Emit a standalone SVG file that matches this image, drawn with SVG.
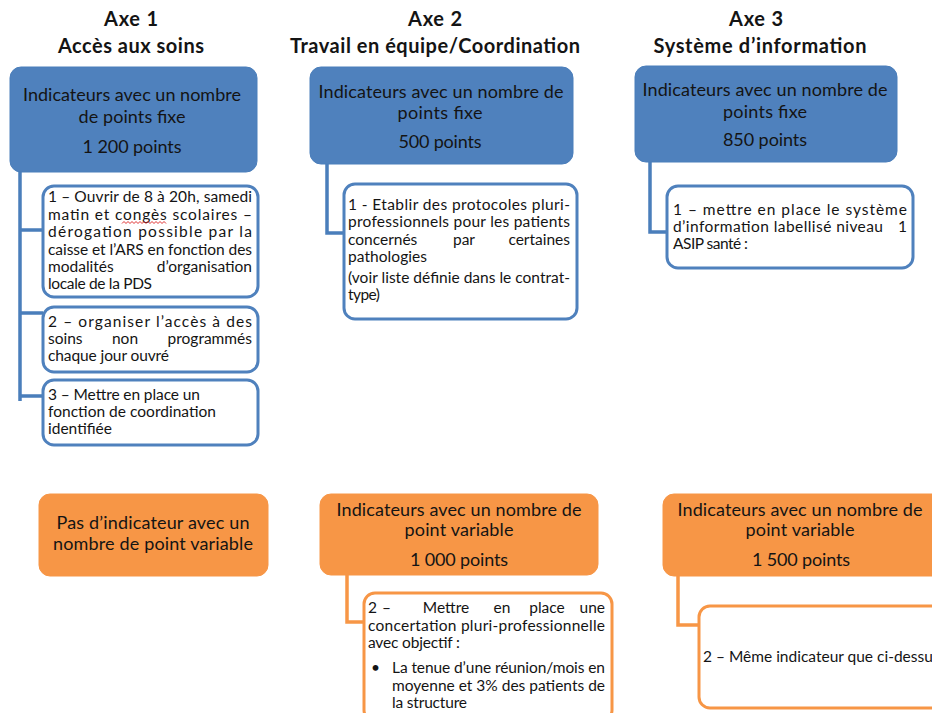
<svg xmlns="http://www.w3.org/2000/svg" width="932" height="713" viewBox="0 0 932 713">
<style>
text{font-family:Lato,"Liberation Sans",sans-serif;fill:#141414}
.h{font-weight:bold;font-size:20px;text-anchor:middle}
.b{font-size:18px;text-anchor:middle}
.s{font-size:15.5px}
.e{text-anchor:end}
.m{text-anchor:middle}
.blue{fill:#4f81bd;stroke:#4a7ebb;stroke-width:1}
.org{fill:#f79646;stroke:#f79646;stroke-width:1}
.cb{fill:#fff;stroke:#4f81bd;stroke-width:3}
.co{fill:#fff;stroke:#f79646;stroke-width:3}
.lb{fill:none;stroke:#4a7ebb;stroke-width:3.5}
.lo{fill:none;stroke:#f79646;stroke-width:3.5}
</style>

<g id="headers">
<text class="h" x="131" y="26" textLength="54">Axe 1</text>
<text class="h" x="131" y="53" textLength="146">Accès aux soins</text>
<text class="h" x="435" y="26" textLength="54">Axe 2</text>
<text class="h" x="435" y="53" textLength="290">Travail en équipe/Coordination</text>
<text class="h" x="756" y="26" textLength="54">Axe 3</text>
<text class="h" x="760" y="53" textLength="213">Système d’information</text>
</g>

<g id="connectors">
<path class="lb" d="M20 171V401M20 230H43M20 313H43M20 396H43"/>
<path class="lb" d="M327 164V233H344"/>
<path class="lb" d="M650 162V232H667"/>
<path class="lo" d="M347 575V622H364"/>
<path class="lo" d="M678 576V625H699"/>
</g>

<g id="axe1-fixe">
<rect class="blue" x="10" y="67" width="247" height="105" rx="11"/>
<text class="b" x="132" y="101" textLength="218">Indicateurs avec un nombre</text>
<text class="b" x="132" y="123" textLength="107">de points fixe</text>
<text class="b" x="132" y="153" textLength="99">1 200 points</text>
</g>

<g id="axe1-ind1">
<rect class="cb" x="43" y="186" width="215" height="111" rx="11"/>
<text class="s" x="48" y="202" textLength="204">1 – Ouvrir de 8 à 20h, samedi</text>
<text class="s" x="48" y="220" textLength="204">matin et congès scolaires –</text>
<path d="M122 223.5l2-2 2 2 2-2 2 2 2-2 2 2 2-2 2 2 2-2 2 2 2-2 2 2 2-2 2 2 2-2 2 2 2-2 2 2 2-2 2 2 2-2 2 2" fill="none" stroke="#e03030" stroke-width="1"/>
<text class="s" x="48" y="237" textLength="204">dérogation possible par la</text>
<text class="s" x="48" y="255" textLength="204">caisse et l’ARS en fonction des</text>
<text class="s" x="48" y="272">modalités</text>
<text class="s e" x="252" y="272">d’organisation</text>
<text class="s" x="48" y="289" textLength="104">locale de la PDS</text>
</g>

<g id="axe1-ind2">
<rect class="cb" x="43" y="307" width="215" height="65" rx="11"/>
<text class="s" x="48" y="327" textLength="204">2 – organiser l’accès à des</text>
<text class="s" x="48" y="344">soins</text>
<text class="s m" x="125" y="344">non</text>
<text class="s e" x="252" y="344">programmés</text>
<text class="s" x="48" y="361" textLength="121">chaque jour ouvré</text>
</g>

<g id="axe1-ind3">
<rect class="cb" x="43" y="380" width="215" height="65" rx="11"/>
<text class="s" x="48" y="400" textLength="152">3 – Mettre en place un</text>
<text class="s" x="48" y="417" textLength="168">fonction de coordination</text>
<text class="s" x="48" y="434" textLength="64">identifiée</text>
</g>

<g id="axe2-fixe">
<rect class="blue" x="310" y="67" width="263" height="97" rx="11"/>
<text class="b" x="441" y="98" textLength="245">Indicateurs avec un nombre  de</text>
<text class="b" x="440" y="119" textLength="85">points fixe</text>
<text class="b" x="440" y="148" textLength="83">500 points</text>
</g>

<g id="axe2-ind1">
<rect class="cb" x="344" y="184" width="233" height="135" rx="11"/>
<text class="s" x="348" y="210" textLength="222">1 - Etablir des protocoles pluri-</text>
<text class="s" x="348" y="227" textLength="222">professionnels pour les patients</text>
<text class="s" x="348" y="245">concernés</text>
<text class="s m" x="464" y="245">par</text>
<text class="s e" x="570" y="245">certaines</text>
<text class="s" x="348" y="262" textLength="79">pathologies</text>
<text class="s" x="348" y="283" textLength="222">(voir liste définie dans le contrat-</text>
<text class="s" x="348" y="300" textLength="32">type)</text>
</g>

<g id="axe3-fixe">
<rect class="blue" x="635" y="66" width="262" height="96" rx="11"/>
<text class="b" x="765" y="96" textLength="245">Indicateurs avec un nombre  de</text>
<text class="b" x="765" y="118" textLength="84">points fixe</text>
<text class="b" x="765" y="146" textLength="84">850 points</text>
</g>

<g id="axe3-ind1">
<rect class="cb" x="667" y="186" width="246" height="82" rx="11"/>
<text class="s" x="673" y="215" textLength="234">1 – mettre en place le système</text>
<text class="s" x="673" y="232" textLength="210">d’information labellisé niveau</text>
<text class="s e" x="907" y="232">1</text>
<text class="s" x="673" y="249" textLength="75">ASIP santé :</text>
</g>

<g id="axe1-variable">
<rect class="org" x="39" y="494" width="229" height="82" rx="11"/>
<text class="b" x="153" y="529" textLength="193">Pas d’indicateur avec un</text>
<text class="b" x="153" y="550" textLength="200">nombre  de point variable</text>
</g>

<g id="axe2-variable">
<rect class="org" x="320" y="494" width="278" height="81" rx="11"/>
<text class="b" x="459" y="516" textLength="245">Indicateurs avec un nombre  de</text>
<text class="b" x="459" y="536" textLength="109">point variable</text>
<text class="b" x="459" y="566" textLength="98">1 000 points</text>
</g>

<g id="axe2-ind2">
<rect class="co" x="364" y="593" width="248" height="128" rx="11"/>
<text class="s" x="368" y="613">2</text>
<text class="s" x="382" y="613">–</text>
<text class="s m" x="446" y="613">Mettre</text>
<text class="s m" x="502" y="613">en</text>
<text class="s m" x="547" y="613">place</text>
<text class="s e" x="605" y="613">une</text>
<text class="s" x="368" y="631" textLength="237">concertation pluri-professionnelle</text>
<text class="s" x="368" y="648" textLength="92">avec objectif :</text>
<text class="s" x="371" y="673">•</text>
<text class="s" x="392" y="673" textLength="213">La tenue d’une réunion/mois en</text>
<text class="s" x="392" y="691" textLength="213">moyenne et 3% des patients de</text>
<text class="s" x="392" y="708" textLength="75">la structure</text>
</g>

<g id="axe3-variable">
<rect class="org" x="663" y="494" width="290" height="82" rx="11"/>
<text class="b" x="800" y="516" textLength="245">Indicateurs avec un nombre  de</text>
<text class="b" x="800" y="536" textLength="109">point variable</text>
<text class="b" x="801" y="566" textLength="98">1 500 points</text>
</g>

<g id="axe3-ind2">
<rect class="co" x="699" y="606" width="260" height="102" rx="11"/>
<text class="s" x="703" y="662">2 – Même  indicateur que ci-dessus</text>
</g>
</svg>
